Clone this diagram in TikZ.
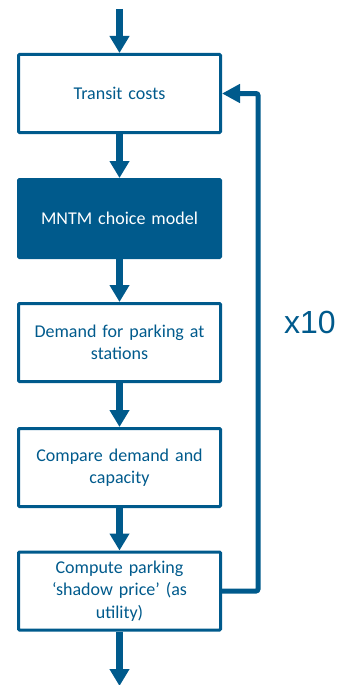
\documentclass[tikz,border=0pt]{standalone}
\usepackage{fontspec}
\setmainfont{Carlito}
\newfontfamily\xfont{Liberation Sans}
\usetikzlibrary{arrows.meta}
\definecolor{mblue}{RGB}{0,90,140}
\begin{document}
\begin{tikzpicture}[x=1pt,y=-1pt,
  box/.style={draw=mblue, line width=3pt, minimum width=202pt, minimum height=78pt,
    inner sep=0pt, text=mblue, font=\fontsize{18}{22.5}\selectfont, align=center,
    text width=190pt, rounded corners=1pt},
  filledbox/.style={box, fill=mblue, text=white},
  flow/.style={draw=mblue, line width=7pt, -{Triangle[width=19pt,length=17pt]}},
  loopback/.style={draw=mblue, line width=5pt, rounded corners=2pt, -{Triangle[width=18pt,length=18pt]}},
  looplabel/.style={text=mblue, font=\xfont\fontsize{32}{32}\selectfont, inner sep=0pt}]
\useasboundingbox (0,0) rectangle (339,685);
\node[box] (b1) at (119.5,93.5) {Transit costs};
\node[filledbox] (b2) at (119.5,218.5) {MNTM choice model};
\node[box] (b3) at (119.5,342.5) {Demand for parking at\\stations};
\node[box] (b4) at (119.5,467.5) {Compare demand and\\capacity};
\node[box] (b5) at (119.5,591) {Compute parking\\‘shadow price’ (as\\utility)};
\coordinate (top) at (119.5,9);
\coordinate (bot) at (119.5,686);
\draw[flow] (top) -- (b1.north);
\draw[flow] (b1.south) -- (b2.north);
\draw[flow] (b2.south) -- (b3.north);
\draw[flow] (b3.south) -- (b4.north);
\draw[flow] (b4.south) -- (b5.north);
\draw[flow] (b5.south) -- (bot);
\draw[loopback] (b5.east) -- ++(36,0) |- (b1.east);
\node[looplabel] (x10) at (310,322) {x10};
\end{tikzpicture}
\end{document}
